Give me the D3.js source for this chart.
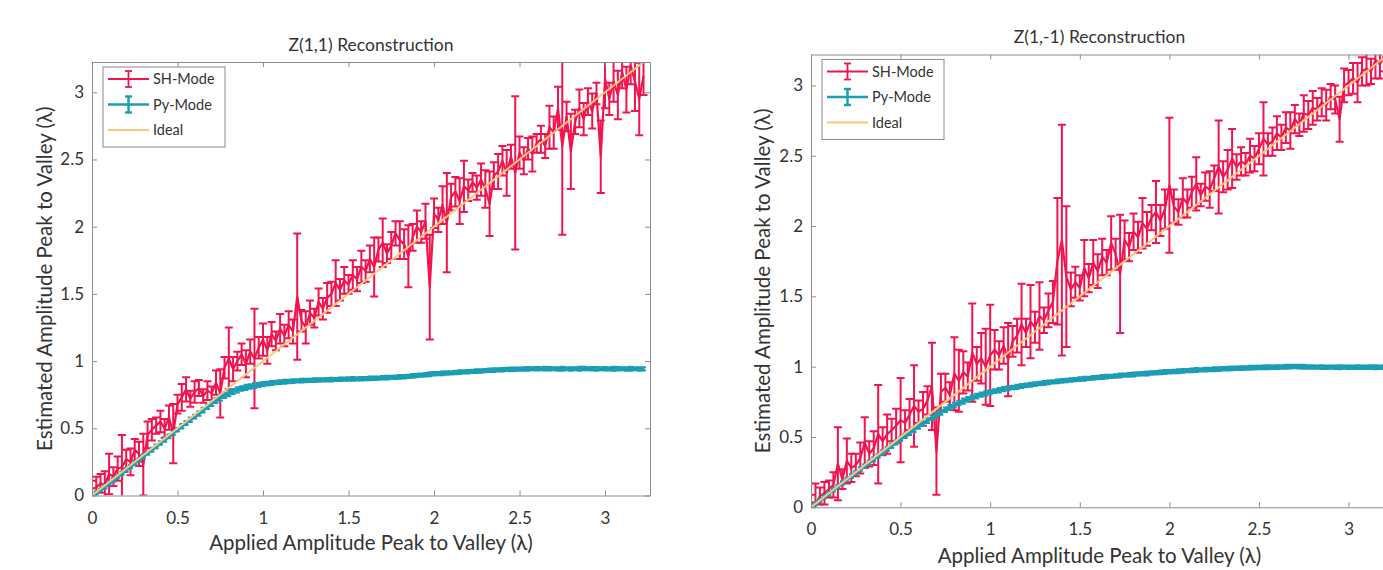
<!DOCTYPE html>
<html>
<head>
<meta charset="utf-8">
<script src="https://cdn.jsdelivr.net/npm/d3@7"></script>
<style>
  body { margin: 0; background: #fff; }
  svg { display: block; font-family: Lato, "Noto Sans", sans-serif; }
</style>
</head>
<body>
<svg id="chart" width="1383" height="570"></svg>
<script>
// Applied amplitude sweep, shared by both panels (lambda)
const appliedAmp = [
  0, 0.025, 0.05, 0.075, 0.1, 0.125, 0.15, 0.175, 0.2, 0.225,
  0.25, 0.275, 0.3, 0.325, 0.35, 0.375, 0.4, 0.425, 0.45, 0.475,
  0.5, 0.525, 0.55, 0.575, 0.6, 0.625, 0.65, 0.675, 0.7, 0.725,
  0.75, 0.775, 0.8, 0.825, 0.85, 0.875, 0.9, 0.925, 0.95, 0.975,
  1, 1.025, 1.05, 1.075, 1.1, 1.125, 1.15, 1.175, 1.2, 1.225,
  1.25, 1.275, 1.3, 1.325, 1.35, 1.375, 1.4, 1.425, 1.45, 1.475,
  1.5, 1.525, 1.55, 1.575, 1.6, 1.625, 1.65, 1.675, 1.7, 1.725,
  1.75, 1.775, 1.8, 1.825, 1.85, 1.875, 1.9, 1.925, 1.95, 1.975,
  2, 2.025, 2.05, 2.075, 2.1, 2.125, 2.15, 2.175, 2.2, 2.225,
  2.25, 2.275, 2.3, 2.325, 2.35, 2.375, 2.4, 2.425, 2.45, 2.475,
  2.5, 2.525, 2.55, 2.575, 2.6, 2.625, 2.65, 2.675, 2.7, 2.725,
  2.75, 2.775, 2.8, 2.825, 2.85, 2.875, 2.9, 2.925, 2.95, 2.975,
  3, 3.025, 3.05, 3.075, 3.1, 3.125, 3.15, 3.175, 3.2, 3.225
];

// Z(1,1) - SH-Mode estimate and error
const shLeftY = [
  0.05, 0.06, 0.09, 0.08, 0.16, 0.14, 0.20, 0.21, 0.27, 0.25,
  0.34, 0.31, 0.23, 0.45, 0.49, 0.52, 0.55, 0.50, 0.58, 0.46,
  0.68, 0.73, 0.79, 0.72, 0.77, 0.80, 0.74, 0.78, 0.76, 0.84,
  0.76, 0.95, 1.02, 0.94, 1.00, 1.05, 0.98, 1.07, 1.02, 1.10,
  1.16, 1.08, 1.20, 1.15, 1.24, 1.19, 1.27, 1.22, 1.48, 1.30,
  1.25, 1.36, 1.32, 1.44, 1.39, 1.47, 1.50, 1.58, 1.53, 1.60,
  1.57, 1.64, 1.61, 1.70, 1.67, 1.76, 1.70, 1.83, 1.88, 1.80,
  1.86, 1.95, 1.90, 1.87, 1.78, 1.92, 2.00, 1.96, 2.04, 1.55,
  2.10, 2.05, 2.16, 2.03, 2.22, 2.26, 2.19, 2.30, 2.27, 2.33,
  2.29, 2.35, 2.28, 2.17, 2.38, 2.41, 2.49, 2.40, 2.52, 2.40,
  2.55, 2.49, 2.58, 2.54, 2.62, 2.65, 2.60, 2.74, 2.70, 2.88,
  2.60, 2.82, 2.56, 2.78, 2.88, 2.80, 2.93, 2.86, 2.99, 2.52,
  3.10, 2.95, 3.08, 2.98, 3.15, 3.02, 3.20, 3.08, 2.95, 3.12
];
const shLeftErr = [
  0.06, 0.08, 0.07, 0.10, 0.15, 0.07, 0.09, 0.24, 0.07, 0.10,
  0.08, 0.09, 0.23, 0.10, 0.08, 0.06, 0.08, 0.07, 0.09, 0.22,
  0.07, 0.10, 0.09, 0.06, 0.08, 0.06, 0.05, 0.07, 0.05, 0.09,
  0.18, 0.08, 0.23, 0.09, 0.07, 0.08, 0.10, 0.09, 0.37, 0.08,
  0.12, 0.10, 0.09, 0.07, 0.11, 0.08, 0.10, 0.09, 0.47, 0.08,
  0.12, 0.09, 0.07, 0.10, 0.08, 0.11, 0.09, 0.17, 0.08, 0.10,
  0.07, 0.11, 0.09, 0.12, 0.08, 0.10, 0.22, 0.09, 0.18, 0.07,
  0.10, 0.09, 0.14, 0.11, 0.23, 0.10, 0.12, 0.08, 0.13, 0.39,
  0.11, 0.09, 0.14, 0.37, 0.10, 0.11, 0.17, 0.19, 0.08, 0.07,
  0.09, 0.12, 0.14, 0.24, 0.10, 0.13, 0.11, 0.17, 0.09, 0.57,
  0.12, 0.10, 0.08, 0.13, 0.07, 0.10, 0.09, 0.16, 0.12, 0.16,
  0.66, 0.11, 0.28, 0.09, 0.14, 0.12, 0.10, 0.13, 0.08, 0.27,
  0.22, 0.12, 0.15, 0.18, 0.12, 0.17, 0.14, 0.22, 0.27, 0.14
];

// Z(1,1) - Py-Mode estimate and error
const pyLeftY = [
  0.000, 0.020, 0.040, 0.065, 0.090, 0.115, 0.140, 0.165, 0.190, 0.215,
  0.240, 0.265, 0.290, 0.315, 0.340, 0.365, 0.390, 0.415, 0.440, 0.465,
  0.490, 0.515, 0.540, 0.563, 0.587, 0.610, 0.635, 0.660, 0.685, 0.707,
  0.727, 0.745, 0.760, 0.774, 0.786, 0.796, 0.804, 0.811, 0.817, 0.823,
  0.828, 0.833, 0.837, 0.841, 0.844, 0.847, 0.849, 0.851, 0.853, 0.855,
  0.856, 0.857, 0.858, 0.859, 0.860, 0.861, 0.862, 0.863, 0.864, 0.865,
  0.866, 0.867, 0.868, 0.869, 0.870, 0.871, 0.872, 0.874, 0.876, 0.877,
  0.879, 0.880, 0.882, 0.884, 0.887, 0.890, 0.893, 0.896, 0.899, 0.902,
  0.905, 0.907, 0.909, 0.911, 0.913, 0.915, 0.917, 0.919, 0.921, 0.923,
  0.925, 0.927, 0.929, 0.931, 0.933, 0.935, 0.936, 0.938, 0.939, 0.940,
  0.941, 0.942, 0.942, 0.943, 0.943, 0.943, 0.944, 0.943, 0.943, 0.942,
  0.943, 0.943, 0.942, 0.943, 0.943, 0.944, 0.943, 0.943, 0.942, 0.943,
  0.943, 0.942, 0.943, 0.943, 0.943, 0.942, 0.943, 0.943, 0.942, 0.942
];
const pyLeftErr = [
  0.010, 0.012, 0.011, 0.013, 0.012, 0.014, 0.012, 0.013, 0.015, 0.012,
  0.014, 0.013, 0.016, 0.012, 0.015, 0.014, 0.013, 0.016, 0.014, 0.015,
  0.013, 0.016, 0.015, 0.017, 0.014, 0.016, 0.018, 0.017, 0.020, 0.018,
  0.022, 0.019, 0.021, 0.018, 0.020, 0.017, 0.019, 0.016, 0.018, 0.015,
  0.016, 0.014, 0.015, 0.013, 0.014, 0.015, 0.013, 0.014, 0.012, 0.014,
  0.013, 0.012, 0.014, 0.013, 0.012, 0.013, 0.014, 0.012, 0.013, 0.012,
  0.013, 0.014, 0.012, 0.013, 0.012, 0.014, 0.013, 0.012, 0.013, 0.014,
  0.012, 0.013, 0.014, 0.013, 0.012, 0.014, 0.013, 0.012, 0.013, 0.014,
  0.013, 0.012, 0.014, 0.013, 0.012, 0.013, 0.014, 0.012, 0.013, 0.012,
  0.014, 0.013, 0.012, 0.013, 0.014, 0.012, 0.013, 0.012, 0.014, 0.013,
  0.012, 0.013, 0.014, 0.012, 0.013, 0.012, 0.014, 0.013, 0.012, 0.013,
  0.014, 0.012, 0.013, 0.012, 0.014, 0.013, 0.012, 0.013, 0.014, 0.012,
  0.013, 0.012, 0.014, 0.013, 0.012, 0.013, 0.014, 0.012, 0.013, 0.012
];

// Z(1,-1) - SH-Mode estimate and error
const shRightY = [
  0.04, 0.02, 0.08, 0.10, 0.13, 0.16, 0.31, 0.20, 0.33, 0.28,
  0.30, 0.35, 0.46, 0.38, 0.42, 0.52, 0.47, 0.52, 0.55, 0.58,
  0.62, 0.60, 0.66, 0.72, 0.68, 0.70, 0.76, 0.86, 0.40, 0.82,
  0.85, 0.80, 0.95, 0.90, 0.96, 0.93, 1.10, 1.02, 1.06, 1.00,
  1.08, 1.12, 1.08, 1.15, 1.05, 1.18, 1.22, 1.30, 1.24, 1.32,
  1.28, 1.36, 1.33, 1.40, 1.46, 1.75, 1.90, 1.64, 1.55, 1.60,
  1.56, 1.70, 1.63, 1.74, 1.68, 1.78, 1.74, 1.88, 1.80, 1.66,
  1.90, 1.85, 1.96, 1.92, 2.02, 1.98, 2.06, 2.10, 2.04, 2.12,
  2.29, 2.14, 2.10, 2.20, 2.16, 2.24, 2.30, 2.22, 2.28, 2.26,
  2.34, 2.42, 2.35, 2.40, 2.48, 2.42, 2.46, 2.44, 2.50, 2.48,
  2.55, 2.62, 2.58, 2.60, 2.66, 2.63, 2.70, 2.68, 2.76, 2.72,
  2.80, 2.79, 2.84, 2.83, 2.88, 2.86, 2.92, 2.90, 2.76, 3.00,
  3.02, 3.05, 3.02, 3.10, 3.12, 3.10, 3.18, 3.15, 3.22, 3.05
];
const shRightErr = [
  0.05, 0.15, 0.06, 0.08, 0.06, 0.09, 0.26, 0.07, 0.16, 0.10,
  0.08, 0.11, 0.18, 0.09, 0.12, 0.35, 0.10, 0.14, 0.08, 0.12,
  0.30, 0.09, 0.11, 0.29, 0.08, 0.12, 0.10, 0.31, 0.31, 0.13,
  0.10, 0.09, 0.26, 0.22, 0.15, 0.10, 0.35, 0.12, 0.18, 0.27,
  0.36, 0.14, 0.10, 0.13, 0.26, 0.11, 0.12, 0.29, 0.10, 0.26,
  0.11, 0.24, 0.09, 0.12, 0.15, 0.45, 0.82, 0.50, 0.12, 0.11,
  0.09, 0.20, 0.10, 0.16, 0.12, 0.13, 0.09, 0.19, 0.11, 0.42,
  0.14, 0.10, 0.13, 0.11, 0.18, 0.12, 0.09, 0.22, 0.11, 0.14,
  0.48, 0.12, 0.09, 0.14, 0.10, 0.11, 0.19, 0.08, 0.10, 0.13,
  0.09, 0.33, 0.11, 0.14, 0.21, 0.09, 0.10, 0.08, 0.12, 0.09,
  0.11, 0.26, 0.08, 0.10, 0.12, 0.09, 0.11, 0.13, 0.10, 0.08,
  0.13, 0.10, 0.12, 0.08, 0.10, 0.11, 0.09, 0.10, 0.16, 0.12,
  0.09, 0.11, 0.14, 0.10, 0.12, 0.09, 0.13, 0.10, 0.12, 0.16
];

// Z(1,-1) - Py-Mode estimate and error
const pyRightY = [
  0.000, 0.025, 0.050, 0.075, 0.099, 0.124, 0.148, 0.173, 0.197, 0.222,
  0.246, 0.270, 0.294, 0.318, 0.342, 0.366, 0.390, 0.414, 0.438, 0.461,
  0.485, 0.508, 0.530, 0.552, 0.574, 0.595, 0.616, 0.636, 0.656, 0.675,
  0.693, 0.710, 0.726, 0.741, 0.755, 0.768, 0.780, 0.791, 0.801, 0.810,
  0.819, 0.826, 0.833, 0.840, 0.846, 0.852, 0.857, 0.862, 0.867, 0.872,
  0.876, 0.880, 0.884, 0.888, 0.892, 0.895, 0.899, 0.902, 0.905, 0.908,
  0.911, 0.914, 0.917, 0.920, 0.923, 0.926, 0.929, 0.931, 0.934, 0.937,
  0.940, 0.942, 0.945, 0.948, 0.950, 0.952, 0.955, 0.957, 0.960, 0.962,
  0.964, 0.966, 0.968, 0.970, 0.972, 0.974, 0.976, 0.977, 0.979, 0.980,
  0.982, 0.983, 0.985, 0.986, 0.988, 0.989, 0.990, 0.991, 0.992, 0.993,
  0.994, 0.995, 0.996, 0.996, 0.997, 0.998, 0.999, 1.000, 1.001, 1.000,
  0.999, 0.998, 0.998, 0.997, 0.997, 0.996, 0.997, 0.996, 0.996, 0.997,
  0.996, 0.996, 0.997, 0.996, 0.996, 0.997, 0.996, 0.996, 0.997, 0.996
];
const pyRightErr = [
  0.010, 0.011, 0.012, 0.011, 0.013, 0.012, 0.013, 0.012, 0.014, 0.013,
  0.012, 0.014, 0.013, 0.015, 0.014, 0.013, 0.015, 0.014, 0.016, 0.015,
  0.014, 0.016, 0.015, 0.017, 0.016, 0.015, 0.017, 0.016, 0.018, 0.017,
  0.016, 0.018, 0.017, 0.016, 0.018, 0.017, 0.016, 0.017, 0.015, 0.016,
  0.015, 0.014, 0.016, 0.015, 0.014, 0.013, 0.015, 0.014, 0.013, 0.014,
  0.013, 0.012, 0.014, 0.013, 0.012, 0.013, 0.014, 0.012, 0.013, 0.012,
  0.013, 0.014, 0.012, 0.013, 0.012, 0.014, 0.013, 0.012, 0.013, 0.014,
  0.012, 0.013, 0.014, 0.013, 0.012, 0.014, 0.013, 0.012, 0.013, 0.014,
  0.013, 0.012, 0.014, 0.013, 0.012, 0.013, 0.014, 0.012, 0.013, 0.012,
  0.014, 0.013, 0.012, 0.013, 0.014, 0.012, 0.013, 0.012, 0.014, 0.013,
  0.012, 0.013, 0.014, 0.012, 0.013, 0.012, 0.014, 0.013, 0.012, 0.013,
  0.014, 0.012, 0.013, 0.012, 0.014, 0.013, 0.012, 0.013, 0.014, 0.012,
  0.013, 0.012, 0.014, 0.013, 0.012, 0.013, 0.014, 0.012, 0.013, 0.012
];

// Ideal response (estimated = applied)
const idealX = [0, 3.3];
const idealY = [0, 3.3];

const tickValues = [0, 0.5, 1, 1.5, 2, 2.5, 3];
const legendLabels = ["SH-Mode", "Py-Mode", "Ideal"];

const colors = { sh: "#f2144f", py: "#1b9db4", ideal: "#fbc77c" };
const axisColor = "#8c8c8c";
const textColor = "#333";

// panel layout (pixel boxes of each axes)
const panels = [
  {
    id: "p1", title: "Z(1,1) Reconstruction",
    left: 92, right: 650, top: 62, bottom: 495.5,
    xMax: 3.263, yMax: 3.225,
    shY: shLeftY, shErr: shLeftErr, pyY: pyLeftY, pyErr: pyLeftErr,
    titleY: 51, xLabelY: 550, yLabelX: 52
  },
  {
    id: "p2", title: "Z(1,-1) Reconstruction",
    left: 811, right: 1388, top: 54.5, bottom: 507.3,
    xMax: 3.22, yMax: 3.22,
    shY: shRightY, shErr: shRightErr, pyY: pyRightY, pyErr: pyRightErr,
    titleY: 43, xLabelY: 563, yLabelX: 770
  }
];

const svg = d3.select("#chart");
svg.append("rect").attr("width", 1383).attr("height", 570).attr("fill", "#fff");

// vertical error bars with caps plus connecting line (MATLAB errorbar style)
function drawErrorbar(g, xs, ys, es, x, y, color, capW, width, lineW) {
    const pts = xs.map((d, i) => ({ x: d, y: ys[i], e: es[i] }));
    const bars = g.append("g")
        .attr("stroke", color)
        .attr("stroke-width", width)
        .attr("fill", "none");
    pts.forEach(p => {
        const cx = x(p.x), y1 = y(p.y - p.e), y2 = y(p.y + p.e);
        bars.append("line").attr("x1", cx).attr("x2", cx).attr("y1", y1).attr("y2", y2);
        bars.append("line").attr("x1", cx - capW / 2).attr("x2", cx + capW / 2).attr("y1", y1).attr("y2", y1);
        bars.append("line").attr("x1", cx - capW / 2).attr("x2", cx + capW / 2).attr("y1", y2).attr("y2", y2);
    });
    g.append("path")
        .datum(pts)
        .attr("fill", "none")
        .attr("stroke", color)
        .attr("stroke-width", lineW)
        .attr("stroke-linejoin", "round")
        .attr("d", d3.line().x(d => x(d.x)).y(d => y(d.y)));
}

panels.forEach(p => {
    const x = d3.scaleLinear().domain([0, p.xMax]).range([p.left, p.right]);
    const y = d3.scaleLinear().domain([0, p.yMax]).range([p.bottom, p.top]);

    svg.append("clipPath").attr("id", "clip-" + p.id)
        .append("rect")
        .attr("x", p.left).attr("y", p.top)
        .attr("width", p.right - p.left).attr("height", p.bottom - p.top);

    const plot = svg.append("g").attr("clip-path", `url(#clip-${p.id})`);

    drawErrorbar(plot, appliedAmp, p.shY, p.shErr, x, y, colors.sh, 8, 2, 2.2);
    drawErrorbar(plot, appliedAmp, p.pyY, p.pyErr, x, y, colors.py, 5, 2, 3.5);

    plot.append("path")
        .datum(idealX.map((d, i) => [d, idealY[i]]))
        .attr("fill", "none")
        .attr("stroke", colors.ideal)
        .attr("stroke-width", 2)
        .attr("d", d3.line().x(d => x(d[0])).y(d => y(d[1])));

    // axes: ticks inward on all four sides, box on
    const fmt = d3.format("~g");
    const styleAxis = g => {
        g.selectAll(".domain").attr("stroke", axisColor);
        g.selectAll(".tick line").attr("stroke", axisColor);
        g.selectAll("text").attr("fill", textColor).attr("font-size", 17)
            .attr("font-family", "Lato, 'Noto Sans', sans-serif");
    };
    svg.append("g").attr("transform", `translate(0,${p.bottom})`)
        .call(d3.axisBottom(x).tickValues(tickValues).tickFormat(fmt).tickSizeInner(-5).tickSizeOuter(0).tickPadding(16))
        .call(styleAxis);
    svg.append("g").attr("transform", `translate(${p.left},0)`)
        .call(d3.axisLeft(y).tickValues(tickValues).tickFormat(fmt).tickSizeInner(-5).tickSizeOuter(0).tickPadding(8))
        .call(styleAxis);
    svg.append("g").attr("transform", `translate(0,${p.top})`)
        .call(d3.axisTop(x).tickValues(tickValues).tickFormat("").tickSizeInner(-5).tickSizeOuter(0))
        .call(styleAxis);
    svg.append("g").attr("transform", `translate(${p.right},0)`)
        .call(d3.axisRight(y).tickValues(tickValues).tickFormat("").tickSizeInner(-5).tickSizeOuter(0))
        .call(styleAxis);

    // title and labels
    const cx = (p.left + p.right) / 2;
    svg.append("text")
        .attr("x", cx).attr("y", p.titleY)
        .attr("text-anchor", "middle").attr("font-size", 17.5).attr("fill", textColor)
        .text(p.title);
    svg.append("text")
        .attr("x", cx).attr("y", p.xLabelY)
        .attr("text-anchor", "middle").attr("font-size", 20.5).attr("fill", textColor)
        .text("Applied Amplitude Peak to Valley (λ)");
    svg.append("text")
        .attr("transform", `translate(${p.yLabelX},${(p.top + p.bottom) / 2}) rotate(-90)`)
        .attr("text-anchor", "middle").attr("font-size", 20.5).attr("fill", textColor)
        .text("Estimated Amplitude Peak to Valley (λ)");

    // legend
    const lg = svg.append("g").attr("transform", `translate(${p.left + 11},${p.top + 5})`);
    lg.append("rect")
        .attr("width", 122).attr("height", 80)
        .attr("fill", "#fff").attr("stroke", axisColor).attr("stroke-width", 1);
    const legendColors = [colors.sh, colors.py, colors.ideal];
    legendLabels.forEach((lab, i) => {
        const ly = 12 + i * 25.5;
        const row = lg.append("g").attr("transform", `translate(0,${ly})`);
        row.append("line").attr("x1", 5).attr("x2", 46).attr("y1", 0).attr("y2", 0)
            .attr("stroke", legendColors[i]).attr("stroke-width", i === 1 ? 2.4 : 2);
        if (i < 2) {
            const bw = i === 1 ? 2.4 : 1.8;
            row.append("line").attr("x1", 25.5).attr("x2", 25.5).attr("y1", -8).attr("y2", 8)
                .attr("stroke", legendColors[i]).attr("stroke-width", bw);
            [-8, 8].forEach(cy => row.append("line")
                .attr("x1", 22).attr("x2", 29).attr("y1", cy).attr("y2", cy)
                .attr("stroke", legendColors[i]).attr("stroke-width", bw));
        }
        row.append("text").attr("x", 50).attr("y", 5)
            .attr("font-size", 14.5).attr("fill", textColor).text(lab);
    });
});
</script>
</body>
</html>
